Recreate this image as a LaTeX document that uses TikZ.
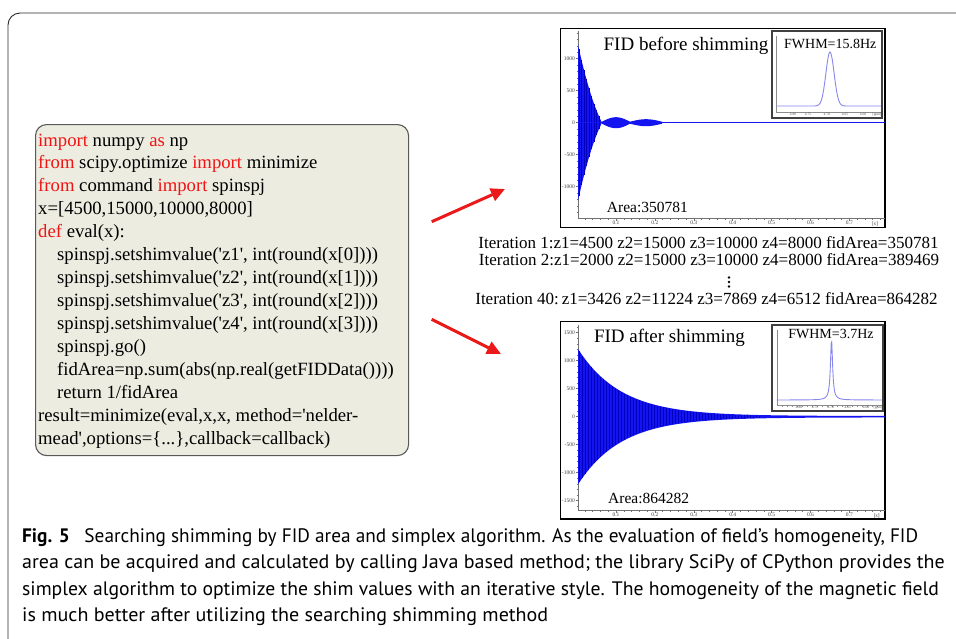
\documentclass[tikz,border=0pt]{standalone}
\usepackage{graphicx}
\usepackage{fontspec}
\setmainfont{Liberation Serif}
\newfontfamily\capfont{PT Sans}
\usetikzlibrary{arrows.meta}
\definecolor{codebg}{RGB}{236,236,225}
\definecolor{kwred}{RGB}{240,20,20}
\definecolor{fidblue}{RGB}{20,20,240}
\definecolor{fiddark}{RGB}{0,0,190}
\definecolor{specblue}{RGB}{135,135,240}
\definecolor{arrred}{RGB}{235,25,25}
\definecolor{framecol}{RGB}{40,40,40}
\newcommand\kw[1]{\textcolor{kwred}{#1}}
\newcommand\sq{\textquotesingle}
\tikzset{
  codetxt/.style={anchor=base west, inner sep=0pt, font=\fontsize{18.7}{22}\selectfont},
  itertxt/.style={anchor=base, inner sep=0pt, font=\fontsize{17}{20}\selectfont},
  ttl/.style={anchor=base, inner sep=0pt, font=\fontsize{19}{22}\selectfont},
  arealab/.style={anchor=base west, inner sep=0pt, font=\fontsize{15.5}{18}\selectfont},
  fwhm/.style={anchor=base, inner sep=0pt, font=\fontsize{14}{16}\selectfont},
  ylab/.style={anchor=east, inner sep=0pt, font=\fontsize{5.5}{6}\selectfont, text=black!75},
  xlab/.style={anchor=north, inner sep=0pt, font=\fontsize{5.5}{6}\selectfont, text=black!75},
  ilab/.style={anchor=north, inner sep=0pt, font=\fontsize{3.5}{4}\selectfont, text=black!70},
  captxt/.style={anchor=base west, inner sep=0pt, font=\capfont\fontsize{19.5}{22}\selectfont},
  redarrow/.style={draw=arrred, line width=3pt, -{Triangle[length=14pt,width=13pt]}},
  plotframe/.style={draw=black, line width=1.2pt},
  axisline/.style={draw=black!55, line width=0.5pt},
  insetframe/.style={draw=black!75, line width=1.8pt, fill=white},
  codebox/.style={draw=black!65, line width=1.1pt, fill=codebg, rounded corners=11pt, anchor=north west, inner sep=0pt},
}
\begin{document}
\begin{tikzpicture}[x=1pt,y=-1pt]
\useasboundingbox (0,0) rectangle (956,638);
% outer frame
\draw[framecol, line width=0.9pt, rounded corners=12pt] (8,640) -- (8,13) -- (958,13);

% code box
\node[codebox, minimum width=373pt, minimum height=331pt] (code) at (35,124) {};
\node[codetxt] (c1) at (38,146) {\kw{import} numpy \kw{as} np};
\node[codetxt] (c2) at (38,168.9) {\kw{from} scipy.optimize \kw{import} minimize};
\node[codetxt] (c3) at (38,191.9) {\kw{from} command \kw{import} spinspj};
\node[codetxt] (c4) at (38,214.8) {x=[4500,15000,10000,8000]};
\node[codetxt] (c5) at (38,237.8) {\kw{def} eval(x):};
\node[codetxt] (c6) at (57,260.7) {spinspj.setshimvalue(\sq z1\sq, int(round(x[0])))};
\node[codetxt] (c7) at (57,283.7) {spinspj.setshimvalue(\sq z2\sq, int(round(x[1])))};
\node[codetxt] (c8) at (57,306.6) {spinspj.setshimvalue(\sq z3\sq, int(round(x[2])))};
\node[codetxt] (c9) at (57,329.6) {spinspj.setshimvalue(\sq z4\sq, int(round(x[3])))};
\node[codetxt] (c10) at (57,352.5) {spinspj.go()};
\node[codetxt] (c11) at (57,375.5) {fidArea=np.sum(abs(np.real(getFIDData())))};
\node[codetxt] (c12) at (57,398.4) {return 1/fidArea};
\node[codetxt] (c13) at (38,421.4) {result=minimize(eval,x,x, method=\sq nelder-};
\node[codetxt] (c14) at (38,444.3) {mead\sq,options=\{...\},callback=callback)};

% arrows
\coordinate (a1s) at (431.7,221.7);
\coordinate (a1e) at (505,189);
\coordinate (a2s) at (431.7,319.3);
\coordinate (a2e) at (501,354);
\draw[redarrow] (a1s) -- (a1e);
\draw[redarrow] (a2s) -- (a2e);

% ================= top plot =================
\draw[plotframe, fill=white] (560.7,28.3) rectangle (885,227.3);
\draw[axisline] (578,31) -- (578,218.7) -- (885,218.7);
\foreach \v in {-1400,-1300,...,1400} \draw[axisline] (576.8,122.7-\v*0.064) -- (578,122.7-\v*0.064);
\foreach \v [count=\i] in {-1000,-500,0,500,1000} {
  \draw[axisline] (575.5,122.7-\v*0.064) -- (578,122.7-\v*0.064);
  \node[ylab] (ty\i) at (575,122.7-\v*0.064) {\v};
}
\foreach \k in {1,...,39} \draw[axisline] (577.1+\k*7.78,218.7) -- (577.1+\k*7.78,220);
\foreach \k [count=\i] in {1,...,7} {
  \draw[axisline] (577.1+\k*38.9,218.7) -- (577.1+\k*38.9,221);
  \node[xlab] (tx\i) at (577.1+\k*38.9,221) {0.\k};
}
\node[xlab] (txs) at (875,221) {[s]};
% FID before
\fill[fidblue] plot[domain=578:602, samples=40] (\x,{122.7-78*(1-(\x-578)/24)*(1-0.4*(\x-578)/24)})
  -- plot[domain=602:578, samples=40] (\x,{122.7+78*(1-(\x-578)/24)*(1-0.4*(\x-578)/24)}) -- cycle;
\foreach \xx in {579,581.5,...,601} \draw[fiddark, line width=0.5pt] (\xx,{122.7-78*(1-(\xx-578)/24)*(1-0.4*(\xx-578)/24)}) -- (\xx,{122.7+78*(1-(\xx-578)/24)*(1-0.4*(\xx-578)/24)});
\fill[fidblue] plot[domain=602:630, samples=20] (\x,{122.7-1-4.5*sin(180*(\x-602)/28)})
  -- plot[domain=630:602, samples=20] (\x,{122.7+1+4.5*sin(180*(\x-602)/28)}) -- cycle;
\fill[fidblue] plot[domain=630:662, samples=20] (\x,{122.7-1-2.5*sin(180*(\x-630)/32)})
  -- plot[domain=662:630, samples=20] (\x,{122.7+1+2.5*sin(180*(\x-630)/32)}) -- cycle;
\draw[fidblue, line width=1.3pt] (578,122.7) -- (885,122.7);
\node[ttl] (t1) at (686,50) {FID before shimming};
\node[arealab] (ar1) at (606.7,212.4) {Area:350781};
% inset top
\draw[insetframe] (771.7,30.7) rectangle (882.3,118.3);
\draw[black!45, line width=0.4pt] (776,36) -- (776,112) -- (881,112);
\foreach \k in {0,...,5} \draw[black!45, line width=0.4pt] (776,106-\k*13) -- (777.2,106-\k*13);
\foreach \k in {1,...,20} \draw[black!45, line width=0.4pt] (776+\k*5,112) -- (776+\k*5,113);
\node[ilab] (ia1) at (793,113.2) {4.80};
\node[ilab] (ia2) at (808,113.2) {4.75};
\node[ilab] (ia3) at (826.7,113.2) {4.70};
\node[ilab] (ia4) at (845,113.2) {4.65};
\node[ilab] (ia5) at (863,113.2) {4.60};
\node[ilab] (ia6) at (877,113.2) {[ppm]};
\draw[specblue, line width=0.9pt] plot[domain=776:881, samples=120] (\x,{106-54*exp(-((\x-830)/5.8)^2)});
\node[fwhm] (fw1) at (830.3,48.6) {FWHM=15.8Hz};

% iteration text
\node[itertxt] (it1) at (708.5,248.5) {Iteration 1:z1=4500 z2=15000 z3=10000 z4=8000 fidArea=350781};
\node[itertxt] (it2) at (709,265.5) {Iteration 2:z1=2000 z2=15000 z3=10000 z4=8000 fidArea=389469};
\fill (729,277.5) circle (1.4pt) (729,282) circle (1.4pt) (729,286.5) circle (1.4pt);
\node[itertxt] (it3) at (706.5,304.5) {Iteration 40:\,z1=3426 z2=11224 z3=7869 z4=6512 fidArea=864282};

% ================= bottom plot =================
\draw[plotframe, fill=white] (560.7,321.7) rectangle (885,519);
\draw[axisline] (578,325) -- (578,510.7) -- (885,510.7);
\foreach \v in {-1600,-1500,...,1600} \draw[axisline] (576.8,416.7-\v*0.056) -- (578,416.7-\v*0.056);
\foreach \v [count=\i] in {-1500,-1000,-500,0,500,1000,1500} {
  \draw[axisline] (575.5,416.7-\v*0.056) -- (578,416.7-\v*0.056);
  \node[ylab] (by\i) at (575,416.7-\v*0.056) {\v};
}
\foreach \k in {1,...,39} \draw[axisline] (577.1+\k*7.78,510.7) -- (577.1+\k*7.78,512);
\foreach \k [count=\i] in {1,...,7} {
  \draw[axisline] (577.1+\k*38.9,510.7) -- (577.1+\k*38.9,513);
  \node[xlab] (bx\i) at (577.1+\k*38.9,513) {0.\k};
}
\node[xlab] (bxs) at (876.7,513) {[s]};
% FID after
\fill[fidblue] plot[domain=578:885, samples=80] (\x,{416.7-0.7-67*exp(-(\x-578)/43)})
  -- plot[domain=885:578, samples=80] (\x,{416.7+0.7+67*exp(-(\x-578)/43)}) -- cycle;
\foreach \xx in {579,582,...,760} \draw[fiddark, line width=0.5pt] (\xx,{416.7-67*exp(-(\xx-578)/43)}) -- (\xx,{416.7+67*exp(-(\xx-578)/43)});
\node[ttl] (t2) at (669.5,342) {FID after shimming};
\node[arealab] (ar2) at (608,503) {Area:864282};
% inset bottom
\draw[insetframe] (771.7,325) rectangle (883.3,410.7);
\draw[black!45, line width=0.4pt] (776.7,330) -- (776.7,405.5) -- (882,405.5);
\foreach \k in {0,...,5} \draw[black!45, line width=0.4pt] (776.7,400-\k*13) -- (777.9,400-\k*13);
\foreach \k in {1,...,20} \draw[black!45, line width=0.4pt] (776.7+\k*5,405.5) -- (776.7+\k*5,406.5);
\node[ilab] (ib1) at (799,406.3) {4.80};
\node[ilab] (ib2) at (815,406.3) {4.75};
\node[ilab] (ib3) at (830.7,406.3) {4.70};
\node[ilab] (ib4) at (847.7,406.3) {4.65};
\node[ilab] (ib5) at (866,406.3) {4.60};
\node[ilab] (ib6) at (878,406.3) {[ppm]};
\draw[specblue, line width=0.9pt] plot[domain=776.7:882, samples=200] (\x,{400-60/(1+((\x-831.5)/1.3)^2)});
\node[fwhm] (fw2) at (831,338) {FWHM=3.7Hz};

% caption
\node[captxt] (cap1) at (22,542) {\scalebox{0.989}[1]{\textbf{Fig. 5}\hspace{0.5em} Searching shimming by FID area and simplex algorithm. As the evaluation of field’s homogeneity, FID}};
\node[captxt] (cap2) at (22,568.5) {\scalebox{1.027}[1]{area can be acquired and calculated by calling Java based method; the library SciPy of CPython provides the}};
\node[captxt] (cap3) at (22,595) {\scalebox{1.009}[1]{simplex algorithm to optimize the shim values with an iterative style. The homogeneity of the magnetic field}};
\node[captxt] (cap4) at (22,621.5) {\scalebox{1.029}[1]{is much better after utilizing the searching shimming method}};
\end{tikzpicture}
\end{document}
